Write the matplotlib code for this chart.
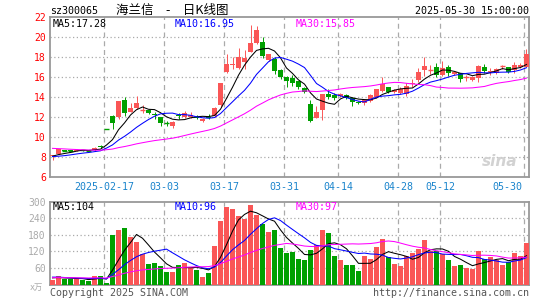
import numpy as np
import pandas as pd
from matplotlib import pyplot as plt

# 海兰信 sz300065 daily bars, index 0 = 2025-01-27 ... 79 = 2025-05-30
opens = [8.10, 8.33, 8.70, 8.72, 8.68, 8.74, 8.70, 8.70, 9.15, 10.80,
         12.15, 12.00, 13.75, 12.55, 12.90, 12.70, 12.75, 12.35, 12.00, 11.45,
         11.15, 12.20, 12.07, 12.00, 12.05, 11.60, 12.05, 12.10, 13.20, 16.50,
         17.25, 16.90, 17.55, 18.57, 19.40, 19.50, 17.75, 17.85, 16.75, 16.05,
         15.95, 15.60, 14.90, 13.30, 11.97, 12.75, 14.30, 14.25, 14.15, 14.25,
         13.90, 13.50, 13.40, 13.60, 14.00, 14.60, 15.00, 14.50, 14.40, 14.35,
         15.35, 15.75, 16.75, 16.70, 17.05, 16.25, 17.05, 16.35, 16.40, 15.95,
         15.75, 15.90, 17.05, 16.50, 16.40, 17.10, 17.00, 16.70, 17.00, 17.05]
highs = [8.25, 8.85, 8.75, 8.78, 8.80, 8.78, 8.74, 9.02, 9.22, 10.80,
         12.20, 13.65, 14.05, 13.45, 14.10, 13.20, 12.85, 12.50, 12.05, 11.65,
         11.60, 12.45, 12.60, 12.55, 12.20, 11.90, 12.30, 13.00, 15.45, 18.30,
         18.00, 18.95, 18.70, 21.25, 21.10, 20.00, 18.35, 18.05, 16.85, 16.10,
         16.22, 15.62, 15.07, 13.75, 13.15, 14.35, 14.80, 14.40, 14.45, 14.35,
         14.00, 13.60, 13.75, 14.30, 14.85, 16.00, 15.05, 14.80, 15.00, 15.40,
         15.80, 16.90, 18.05, 17.20, 17.40, 17.65, 17.25, 16.65, 16.45, 16.25,
         16.10, 17.25, 17.35, 16.90, 16.90, 17.25, 17.05, 17.55, 17.40, 18.80]
lows = [7.70, 8.30, 8.60, 8.62, 8.64, 8.62, 8.60, 8.66, 8.95, 10.80,
        10.85, 11.80, 12.10, 12.50, 12.80, 12.40, 12.30, 11.80, 11.15, 11.15,
        10.95, 11.80, 11.90, 11.95, 11.80, 11.50, 11.85, 12.05, 13.05, 16.40,
        16.85, 16.85, 16.80, 18.50, 19.30, 17.95, 17.60, 16.30, 15.80, 15.07,
        15.10, 14.80, 14.40, 11.55, 11.95, 11.75, 13.80, 13.75, 14.05, 13.85,
        13.10, 13.30, 13.25, 13.50, 13.95, 14.50, 14.45, 14.45, 14.30, 14.10,
        15.05, 15.55, 16.10, 16.35, 16.05, 16.10, 16.15, 16.25, 15.55, 15.65,
        15.65, 15.50, 16.40, 16.25, 16.35, 16.80, 16.45, 16.45, 16.90, 17.00]
closes = [8.20, 8.80, 8.65, 8.68, 8.74, 8.70, 8.66, 8.98, 9.00, 10.80,
          11.40, 13.60, 12.40, 12.95, 13.45, 12.75, 12.45, 12.25, 11.40, 11.40,
          11.55, 12.10, 12.40, 12.25, 11.95, 11.80, 11.95, 12.95, 15.40, 17.35,
          17.35, 18.00, 17.95, 19.45, 20.70, 18.10, 18.30, 16.60, 16.05, 15.60,
          15.40, 15.05, 14.50, 11.65, 12.55, 14.30, 14.05, 13.95, 14.35, 13.90,
          13.50, 13.40, 13.70, 14.25, 14.80, 15.30, 14.50, 14.75, 14.85, 15.10,
          15.45, 16.55, 17.15, 16.75, 16.25, 16.95, 16.45, 16.55, 15.80, 16.00,
          16.00, 17.10, 16.65, 16.65, 16.80, 17.15, 16.50, 17.25, 17.20, 18.30]
volumes = [18, 31, 20, 20, 19, 17, 13, 31, 31, 7,
           178, 196, 206, 171, 153, 110, 74, 78, 67, 45,
           46, 70, 78, 64, 52, 28, 42, 139, 230, 280,
           273, 246, 237, 289, 251, 218, 189, 197, 132, 114,
           117, 92, 88, 124, 143, 197, 186, 103, 90, 70,
           70, 49, 103, 92, 135, 165, 98, 74, 67, 104,
           114, 130, 160, 120, 120, 112, 88, 67, 70, 59,
           56, 120, 92, 98, 88, 70, 82, 115, 103, 150]

# the 29 sessions before the window, only needed for the moving averages
prior_closes = [9.60, 9.50, 9.70, 9.55, 9.40, 9.45, 9.30, 9.35, 9.20, 9.40,
                9.30, 9.25, 9.10, 9.20, 9.30, 9.15, 9.20, 9.05, 9.10, 9.00,
                8.40, 8.10, 7.90, 7.85, 7.90, 8.00, 8.10, 8.15, 8.10]
prior_volumes = [25, 28, 22, 30, 26, 24, 21, 27, 23, 25,
                 22, 20, 26, 24, 21, 23, 25, 19, 22, 24,
                 30, 34, 29, 27, 26, 25, 27, 24, 26]

tick_idx = [9, 19, 29, 39, 48, 58, 65, 79]
tick_labels = ['2025-02-17', '03-03', '03-17', '03-31', '04-14', '04-28', '05-12', '05-30']
price_ticks = [6, 8, 10, 12, 14, 16, 18, 20, 22]
vol_ticks = [60, 120, 180, 240, 300]

RED = '#fa5656'
GREEN = '#00a000'
GRID = '#aaaaaa'
FRAME = '#999999'
DATE_BLUE = '#1a84cc'
MONO = 'DejaVu Sans Mono'

plt.rcParams['font.family'] = [MONO, 'Noto Sans CJK SC']

W, H = 545, 300


def box(left, top, right, bottom):
    """pixel box -> figure fraction rect"""
    return [left / W, 1 - bottom / H, (right - left) / W, (bottom - top) / H]


def moving_averages(prior, values):
    s = pd.Series(list(prior) + list(values), dtype=float)
    n = len(prior)
    return [s.rolling(w).mean().values[n:] for w in (5, 10, 30)]


def style_axes(ax, ticks, grid_ticks, label_color):
    ax.set_xlim(-0.42, 79.42)
    for sp in ax.spines.values():
        sp.set_color(FRAME)
        sp.set_linewidth(1.3)
    ax.set_xticks([])
    ax.set_yticks(ticks)
    ax.set_yticklabels([str(t) for t in ticks])
    ax.tick_params(axis='y', length=0, pad=3, labelsize=7, labelcolor=label_color)
    for g in grid_ticks:
        ax.axhline(g, color=GRID, lw=0.9, ls=(0, (1, 2)), zorder=0)
    for i in tick_idx:
        ax.axvline(i - 0.4, color=GRID, lw=0.9, ls=(0, (4, 3)), zorder=0)


x = np.arange(len(closes))
o = np.array(opens)
h = np.array(highs)
l = np.array(lows)
c = np.array(closes)
v = np.array(volumes)
colors = np.where(c > o, RED, GREEN)

fig = plt.figure(figsize=(W / 100, H / 100), dpi=100)
ax = fig.add_axes(box(50, 17.3, 529, 177.3))
axv = fig.add_axes(box(50, 201.5, 529, 284.5))

# ---- price panel
style_axes(ax, price_ticks, price_ticks[1:-1], 'red')
ax.set_ylim(6, 22)
ax.vlines(x, l, h, colors=colors, lw=0.7, zorder=2)
body = np.abs(c - o)
ax.bar(x, body, bottom=np.minimum(o, c), width=0.8, color=colors, linewidth=0, zorder=3)
flat = body < 0.06
ax.hlines(c[flat], x[flat] - 0.4, x[flat] + 0.4, colors=colors[flat], lw=1, zorder=3)

ma5, ma10, ma30 = moving_averages(prior_closes, closes)
ax.plot(x, ma5, color='black', lw=0.75, zorder=4)
ax.plot(x, ma10, color='#0000ff', lw=0.75, zorder=4)
ax.plot(x, ma30, color='#ff00ff', lw=0.75, zorder=4)

ax.text(0.006, 0.96, 'MA5:17.28', transform=ax.transAxes, color='black',
        fontsize=7.2, va='center', ha='left')
ax.text(0.261, 0.96, 'MA10:16.95', transform=ax.transAxes, color='#0000ff',
        fontsize=7.2, va='center', ha='left')
ax.text(0.512, 0.96, 'MA30:15.85', transform=ax.transAxes, color='#ff00ff',
        fontsize=7.2, va='center', ha='left')

for i, lab in zip(tick_idx, tick_labels):
    ha = 'right' if i == tick_idx[-1] else 'center'
    xpos = i - 0.7 if ha == 'right' else i - 0.4
    ax.text(xpos, -0.058, lab, transform=ax.get_xaxis_transform(), color=DATE_BLUE,
            fontsize=7.2, ha=ha, va='center')

ax.text(0.975, 0.1, 'sina', transform=ax.transAxes, color='#d2d2d2', fontsize=11,
        fontstyle='italic', fontweight='bold', ha='right', va='center',
        family='DejaVu Sans', zorder=1)

# ---- volume panel
style_axes(axv, vol_ticks, vol_ticks[:-1], '#aaaaaa')
axv.set_ylim(0, 300)
axv.bar(x, v, width=0.8, color=colors, linewidth=0, zorder=3)
vma5, vma10, vma30 = moving_averages(prior_volumes, volumes)
axv.plot(x, vma5, color='black', lw=0.75, zorder=4)
axv.plot(x, vma10, color='#0000ff', lw=0.75, zorder=4)
axv.plot(x, vma30, color='#ff00ff', lw=0.75, zorder=4)

axv.text(0.006, 0.93, 'MA5:104', transform=axv.transAxes, color='black',
         fontsize=7.2, va='center', ha='left')
axv.text(0.261, 0.93, 'MA10:96', transform=axv.transAxes, color='#0000ff',
         fontsize=7.2, va='center', ha='left')
axv.text(0.512, 0.93, 'MA30:97', transform=axv.transAxes, color='#ff00ff',
         fontsize=7.2, va='center', ha='left')

# ---- header / footer texts
fig.text(50 / W, 1 - 11 / H, 'sz300065', fontsize=7.2, ha='left', va='center')
fig.text(172 / W, 1 - 10 / H, '海兰信　-　日K线图', fontsize=9, ha='center', va='center',
         family=['Noto Sans CJK SC', 'DejaVu Sans'])
fig.text(529 / W, 1 - 11 / H, '2025-05-30 15:00:00', fontsize=7.2, ha='right', va='center')
fig.text(36 / W, 1 - 287 / H, 'x万', fontsize=6, color='#aaaaaa', ha='center', va='center',
         family=['DejaVu Sans Mono', 'Noto Sans CJK SC'])
fig.text(50 / W, 1 - 293 / H, 'Copyright 2025 SINA.COM', fontsize=7.2, color='#555555',
         ha='left', va='center')
fig.text(529 / W, 1 - 293 / H, 'http://finance.sina.com.cn', fontsize=7.2, color='#555555',
         ha='right', va='center')

fig.savefig('out.png', dpi=100)
